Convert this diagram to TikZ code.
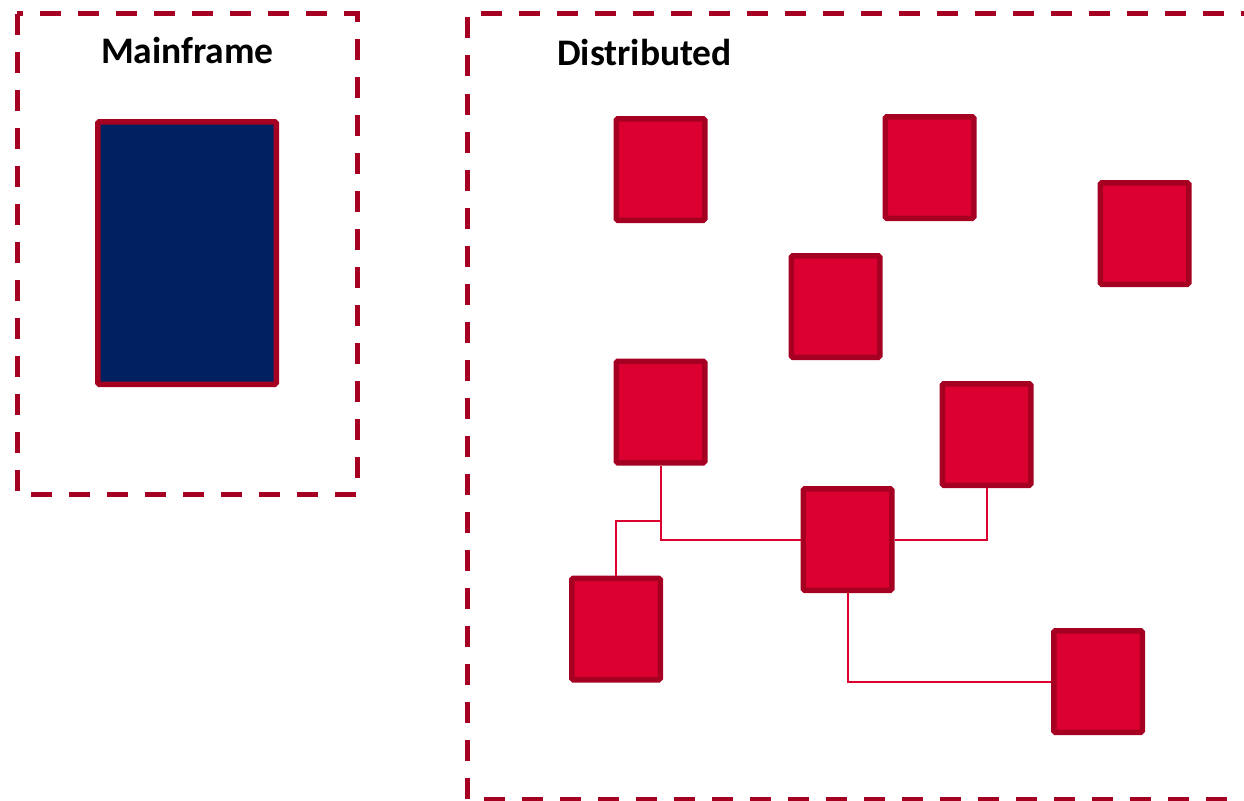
\documentclass[tikz,border=0pt]{standalone}
\usepackage{fontspec}
\setmainfont{Carlito}
\usetikzlibrary{calc}
\definecolor{dkred}{HTML}{A50021}
\definecolor{brred}{HTML}{DC0030}
\definecolor{navy}{HTML}{002060}
\begin{document}
\begin{tikzpicture}[x=1pt,y=-1pt,
  group/.style={draw=dkred,line width=5pt,dash pattern=on 21pt off 17pt},
  server/.style={draw=dkred,fill=brred,line width=5.5pt,rounded corners=1.5pt,minimum width=88.5pt,minimum height=101.5pt,inner sep=0pt},
  mainbox/.style={draw=dkred,fill=navy,line width=5.5pt,rounded corners=1.5pt,minimum width=178.5pt,minimum height=262.5pt,inner sep=0pt},
  title/.style={font=\fontsize{37.5}{42}\selectfont\bfseries,inner sep=0pt},
  link/.style={draw=brred,line width=2pt}]
\useasboundingbox (0,0) rectangle (1244,800);
\draw[group] (17,14) rectangle (357,494);
\draw[group] (1300,14) -- (467.5,14) -- (467.5,799) -- (1300,799);
\node[title] (tmain) at (187.5,50) {Mainframe};
\node[title,anchor=west] (tdist) at (557,52) {Distributed};
\node[mainbox] (mf) at (187,253) {};
\node[server] (n1) at (660.5,169.5) {};
\node[server] (n2) at (929.5,167.5) {};
\node[server] (n3) at (1144.5,233.5) {};
\node[server] (n4) at (835.5,306.5) {};
\node[server] (n5) at (660.5,412) {};
\node[server] (n6) at (986.5,434.5) {};
\node[server] (n7) at (847.5,539.5) {};
\node[server] (n8) at (616,629) {};
\node[server] (n9) at (1098,681.5) {};
\coordinate (j) at (n5.south |- 0,520.5);
\draw[link] (n5.south) |- (n7.west);
\draw[link] (j) -| (n8.north);
\draw[link] (n7.east) -| (n6.south);
\draw[link] (n7.south) |- (n9.west);
\end{tikzpicture}
\end{document}
